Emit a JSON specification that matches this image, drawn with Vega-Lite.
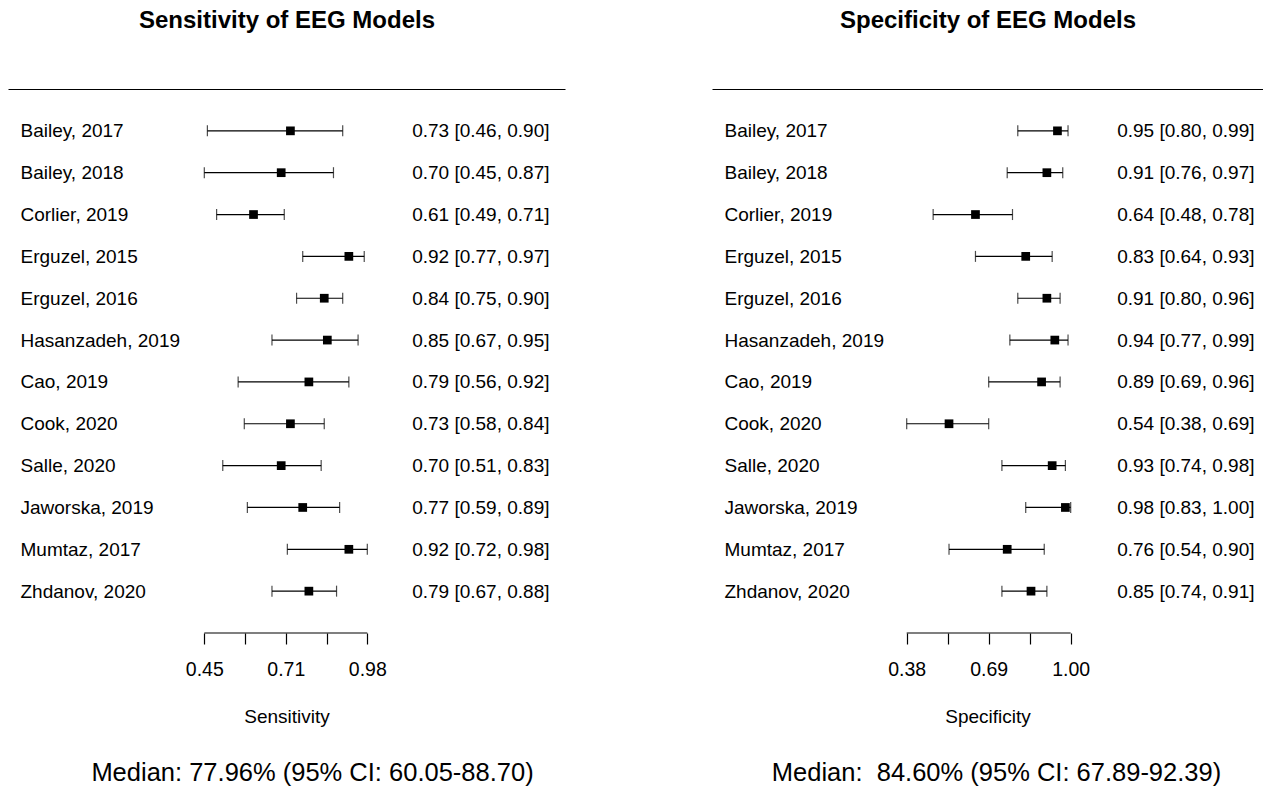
{
  "$schema": "https://vega.github.io/schema/vega-lite/v6.json",
  "padding": {"left": 8, "top": 8, "right": 0, "bottom": 0},
  "spacing": 147,
  "config": {
    "font": "Liberation Sans",
    "view": {"stroke": null},
    "axis": {"labelFont": "Liberation Sans", "titleFont": "Liberation Sans", "grid": false},
    "title": {"font": "Liberation Sans"}
  },
  "datasets": {
    "sens": [
      {"study": "Bailey, 2017", "est": 0.73, "lo": 0.46, "hi": 0.90, "ci": "0.73 [0.46, 0.90]"},
      {"study": "Bailey, 2018", "est": 0.70, "lo": 0.45, "hi": 0.87, "ci": "0.70 [0.45, 0.87]"},
      {"study": "Corlier, 2019", "est": 0.61, "lo": 0.49, "hi": 0.71, "ci": "0.61 [0.49, 0.71]"},
      {"study": "Erguzel, 2015", "est": 0.92, "lo": 0.77, "hi": 0.97, "ci": "0.92 [0.77, 0.97]"},
      {"study": "Erguzel, 2016", "est": 0.84, "lo": 0.75, "hi": 0.90, "ci": "0.84 [0.75, 0.90]"},
      {"study": "Hasanzadeh, 2019", "est": 0.85, "lo": 0.67, "hi": 0.95, "ci": "0.85 [0.67, 0.95]"},
      {"study": "Cao, 2019", "est": 0.79, "lo": 0.56, "hi": 0.92, "ci": "0.79 [0.56, 0.92]"},
      {"study": "Cook, 2020", "est": 0.73, "lo": 0.58, "hi": 0.84, "ci": "0.73 [0.58, 0.84]"},
      {"study": "Salle, 2020", "est": 0.70, "lo": 0.51, "hi": 0.83, "ci": "0.70 [0.51, 0.83]"},
      {"study": "Jaworska, 2019", "est": 0.77, "lo": 0.59, "hi": 0.89, "ci": "0.77 [0.59, 0.89]"},
      {"study": "Mumtaz, 2017", "est": 0.92, "lo": 0.72, "hi": 0.98, "ci": "0.92 [0.72, 0.98]"},
      {"study": "Zhdanov, 2020", "est": 0.79, "lo": 0.67, "hi": 0.88, "ci": "0.79 [0.67, 0.88]"}
    ],
    "spec": [
      {"study": "Bailey, 2017", "est": 0.95, "lo": 0.80, "hi": 0.99, "ci": "0.95 [0.80, 0.99]"},
      {"study": "Bailey, 2018", "est": 0.91, "lo": 0.76, "hi": 0.97, "ci": "0.91 [0.76, 0.97]"},
      {"study": "Corlier, 2019", "est": 0.64, "lo": 0.48, "hi": 0.78, "ci": "0.64 [0.48, 0.78]"},
      {"study": "Erguzel, 2015", "est": 0.83, "lo": 0.64, "hi": 0.93, "ci": "0.83 [0.64, 0.93]"},
      {"study": "Erguzel, 2016", "est": 0.91, "lo": 0.80, "hi": 0.96, "ci": "0.91 [0.80, 0.96]"},
      {"study": "Hasanzadeh, 2019", "est": 0.94, "lo": 0.77, "hi": 0.99, "ci": "0.94 [0.77, 0.99]"},
      {"study": "Cao, 2019", "est": 0.89, "lo": 0.69, "hi": 0.96, "ci": "0.89 [0.69, 0.96]"},
      {"study": "Cook, 2020", "est": 0.54, "lo": 0.38, "hi": 0.69, "ci": "0.54 [0.38, 0.69]"},
      {"study": "Salle, 2020", "est": 0.93, "lo": 0.74, "hi": 0.98, "ci": "0.93 [0.74, 0.98]"},
      {"study": "Jaworska, 2019", "est": 0.98, "lo": 0.83, "hi": 1.00, "ci": "0.98 [0.83, 1.00]"},
      {"study": "Mumtaz, 2017", "est": 0.76, "lo": 0.54, "hi": 0.90, "ci": "0.76 [0.54, 0.90]"},
      {"study": "Zhdanov, 2020", "est": 0.85, "lo": 0.74, "hi": 0.91, "ci": "0.85 [0.74, 0.91]"}
    ]
  },
  "hconcat": [
    {
      "width": 557,
      "height": 544,
      "title": {"text": "Median: 77.96% (95% CI: 60.05-88.70)", "orient": "bottom", "fontSize": 25.5, "fontWeight": "normal", "color": "black", "offset": 34, "dx": 26},
      "data": {"name": "sens"},
      "layer": [
        {
          "layer": [
            {
              "mark": {"type": "rule", "color": "black", "strokeWidth": 1.2},
              "encoding": {
                "y": {"field": "study", "type": "nominal", "sort": null, "scale": {"type": "point", "padding": 1}, "axis": {"orient": "left", "domain": false, "ticks": false, "title": null, "labelAlign": "left", "labelPadding": -12, "labelFontSize": 19, "labelColor": "black", "labelLimit": 400}},
                "x": {"field": "lo", "type": "quantitative", "scale": {"domain": [-0.1883, 1.6228], "nice": false, "zero": false}, "axis": {"orient": "bottom", "values": [0.45, 0.5825, 0.715, 0.8475, 0.98], "labelExpr": "datum.value == 0.45 ? '0.45' : datum.value == 0.715 ? '0.71' : datum.value == 0.98 ? '0.98' : ''", "domain": false, "ticks": true, "tickSize": 11, "tickColor": "black", "tickWidth": 1.2, "labelFontSize": 19.5, "labelColor": "black", "labelPadding": 16, "labelFlush": false, "labelOverlap": false, "title": "Sensitivity", "titleFontSize": 19, "titleFontWeight": "normal", "titleColor": "black", "titlePadding": 29}},
                "x2": {"field": "hi"}
              }
            },
            {
              "mark": {"type": "tick", "color": "black", "thickness": 1.2, "size": 11},
              "encoding": {
                "y": {"field": "study", "type": "nominal", "sort": null},
                "x": {"field": "lo", "type": "quantitative"}
              }
            },
            {
              "mark": {"type": "tick", "color": "black", "thickness": 1.2, "size": 11},
              "encoding": {
                "y": {"field": "study", "type": "nominal", "sort": null},
                "x": {"field": "hi", "type": "quantitative"}
              }
            },
            {
              "mark": {"type": "point", "shape": "square", "filled": true, "color": "black", "opacity": 1, "size": 76},
              "encoding": {
                "y": {"field": "study", "type": "nominal", "sort": null},
                "x": {"field": "est", "type": "quantitative"}
              }
            },
            {
              "data": {"values": [{"from": 0.45, "to": 0.98}]},
              "mark": {"type": "rule", "color": "black", "strokeWidth": 1.2, "y": "height"},
              "encoding": {
                "x": {"field": "from", "type": "quantitative"},
                "x2": {"field": "to"}
              }
            }
          ]
        },
        {
          "mark": {"type": "point", "opacity": 0},
          "encoding": {
            "y": {"field": "ci", "type": "nominal", "sort": null, "scale": {"type": "point", "padding": 1}, "axis": {"orient": "right", "domain": false, "ticks": false, "title": null, "labelAlign": "right", "labelPadding": -16, "labelFontSize": 19, "labelColor": "black", "labelLimit": 400}},
            "x": {"field": "est", "type": "quantitative", "axis": {"orient": "top", "domain": true, "domainColor": "black", "domainWidth": 1.2, "ticks": false, "labels": false, "title": "Sensitivity of EEG Models", "titleFontSize": 24, "titleFontWeight": "bold", "titleColor": "black", "titlePadding": 57}}
          }
        }
      ],
      "resolve": {"scale": {"y": "independent"}, "axis": {"x": "independent", "y": "independent"}}
    },
    {
      "width": 551,
      "height": 544,
      "title": {"text": "Median:\u00a0 84.60% (95% CI: 67.89-92.39)", "orient": "bottom", "fontSize": 25.5, "fontWeight": "normal", "color": "black", "offset": 34, "dx": 9},
      "data": {"name": "spec"},
      "layer": [
        {
          "layer": [
            {
              "mark": {"type": "rule", "color": "black", "strokeWidth": 1.2},
              "encoding": {
                "y": {"field": "study", "type": "nominal", "sort": null, "scale": {"type": "point", "padding": 1}, "axis": {"orient": "left", "domain": false, "ticks": false, "title": null, "labelAlign": "left", "labelPadding": -12, "labelFontSize": 19, "labelColor": "black", "labelLimit": 400}},
                "x": {"field": "lo", "type": "quantitative", "scale": {"domain": [-0.3561, 1.7271], "nice": false, "zero": false}, "axis": {"orient": "bottom", "values": [0.38, 0.535, 0.69, 0.845, 1.0], "labelExpr": "datum.value == 0.38 ? '0.38' : datum.value == 0.69 ? '0.69' : datum.value == 1 ? '1.00' : ''", "domain": false, "ticks": true, "tickSize": 11, "tickColor": "black", "tickWidth": 1.2, "labelFontSize": 19.5, "labelColor": "black", "labelPadding": 16, "labelFlush": false, "labelOverlap": false, "title": "Specificity", "titleFontSize": 19, "titleFontWeight": "normal", "titleColor": "black", "titlePadding": 29}},
                "x2": {"field": "hi"}
              }
            },
            {
              "mark": {"type": "tick", "color": "black", "thickness": 1.2, "size": 11},
              "encoding": {
                "y": {"field": "study", "type": "nominal", "sort": null},
                "x": {"field": "lo", "type": "quantitative"}
              }
            },
            {
              "mark": {"type": "tick", "color": "black", "thickness": 1.2, "size": 11},
              "encoding": {
                "y": {"field": "study", "type": "nominal", "sort": null},
                "x": {"field": "hi", "type": "quantitative"}
              }
            },
            {
              "mark": {"type": "point", "shape": "square", "filled": true, "color": "black", "opacity": 1, "size": 76},
              "encoding": {
                "y": {"field": "study", "type": "nominal", "sort": null},
                "x": {"field": "est", "type": "quantitative"}
              }
            },
            {
              "data": {"values": [{"from": 0.38, "to": 1.0}]},
              "mark": {"type": "rule", "color": "black", "strokeWidth": 1.2, "y": "height"},
              "encoding": {
                "x": {"field": "from", "type": "quantitative"},
                "x2": {"field": "to"}
              }
            }
          ]
        },
        {
          "mark": {"type": "point", "opacity": 0},
          "encoding": {
            "y": {"field": "ci", "type": "nominal", "sort": null, "scale": {"type": "point", "padding": 1}, "axis": {"orient": "right", "domain": false, "ticks": false, "title": null, "labelAlign": "right", "labelPadding": -9, "labelFontSize": 19, "labelColor": "black", "labelLimit": 400}},
            "x": {"field": "est", "type": "quantitative", "axis": {"orient": "top", "domain": true, "domainColor": "black", "domainWidth": 1.2, "ticks": false, "labels": false, "title": "Specificity of EEG Models", "titleFontSize": 24, "titleFontWeight": "bold", "titleColor": "black", "titlePadding": 57}}
          }
        }
      ],
      "resolve": {"scale": {"y": "independent"}, "axis": {"x": "independent", "y": "independent"}}
    }
  ]
}
